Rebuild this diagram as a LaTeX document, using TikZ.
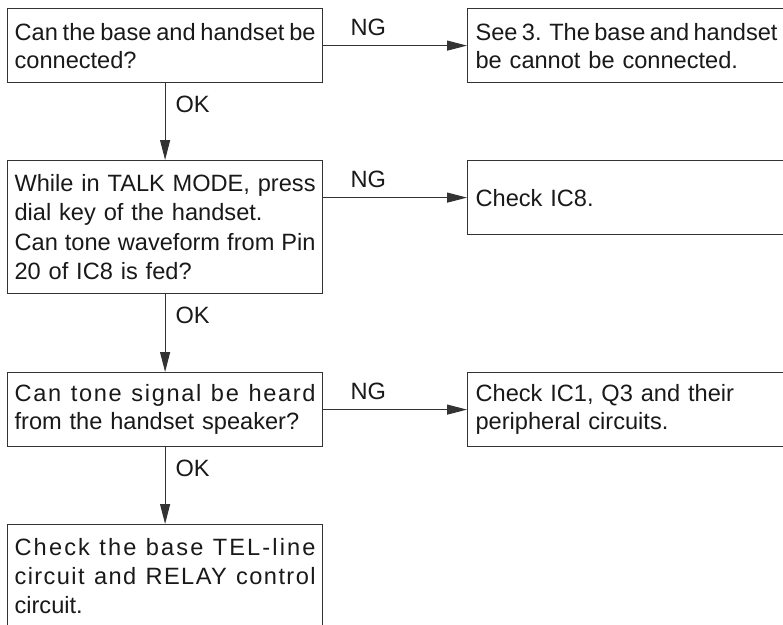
\documentclass[tikz,border=0pt]{standalone}
\usepackage{fontspec}
\setmainfont{Liberation Sans}
\usetikzlibrary{positioning,arrows.meta}

\def\qwidth{225.75pt}
% a line set to a given width (question box width by default)
\newcommand{\fullline}[2][\qwidth]{\makebox[#1][s]{\spaceskip=0.28em plus 1fil minus 0.25em
  \xspaceskip=0.42em plus 1fil minus 0.25em\relax #2}}
\newcommand{\spreadline}[2][6]{\fullline{\addfontfeature{LetterSpace=#1}#2}}

\begin{document}
\begin{tikzpicture}[
  box/.style={draw=black!80, line width=0.9pt, text=black!90, align=left,
    text width=\qwidth, inner xsep=5.25pt, minimum height=55.5pt,
    font=\fontsize{17.7}{21}\selectfont},
  tallbox/.style={box, font=\fontsize{17.7}{22}\selectfont},
  fixbox/.style={box, text width=260pt, inner xsep=6pt},
  flow/.style={-{Triangle[length=15pt,width=7.5pt]}, draw=black!80, line width=0.8pt},
  lbl/.style={inner sep=0pt, text=black!90, font=\fontsize{17.7}{21}\selectfont},
  oklabel/.style={lbl, pos=0.27, anchor=west, xshift=7.5pt},
  nglabel/.style={lbl, pos=0.314, anchor=south, yshift=6.75pt}
]

\useasboundingbox (0,0) rectangle (587.25pt,-468.75pt);
\clip (0,0) rectangle (587.25pt,-468.75pt);

% questions on the left
\node[box, anchor=north west] (q1) at (5.25pt,-6pt)
  {\fullline{Can the base and handset be}\\ connected?};
\node[tallbox, minimum height=99.75pt, below=57.6pt of q1] (q2)
  {\fullline{While in TALK MODE, press}\\ dial key of the handset.\\ \fullline{Can tone waveform from Pin}\\ 20 of IC8 is fed?};
\node[box, below=58.35pt of q2] (q3)
  {\spreadline[7]{Can tone signal be heard}\\ from the handset speaker?};
\node[tallbox, inner ysep=10pt, text depth=70pt, below=57.6pt of q3] (q4)
  {\spreadline[9]{Check the base TEL-line}\\ \spreadline[6]{circuit and RELAY control}\\ circuit.};

% checks on the right
\node[fixbox, right=107.85pt of q1.north east, anchor=north west] (c1)
  {\fullline[226.5pt]{See 3. The base and handset}\\ be cannot be connected.};
\node[fixbox, right=107.85pt of q2.north east, anchor=north west] (c2)
  {Check IC8.};
\node[fixbox, right=107.85pt of q3.north east, anchor=north west] (c3)
  {Check IC1, Q3 and their\\ peripheral circuits.};

% OK and NG arrows
\foreach \a/\b in {q1/q2,q2/q3,q3/q4}
  \draw[flow] (\a) -- node[oklabel] {OK} (\b);

\foreach \a/\b in {q1/c1,q2/c2,q3/c3}
  \draw[flow] (\a.east |- \b.west) -- node[nglabel] {NG} (\b.west);

\end{tikzpicture}
\end{document}
